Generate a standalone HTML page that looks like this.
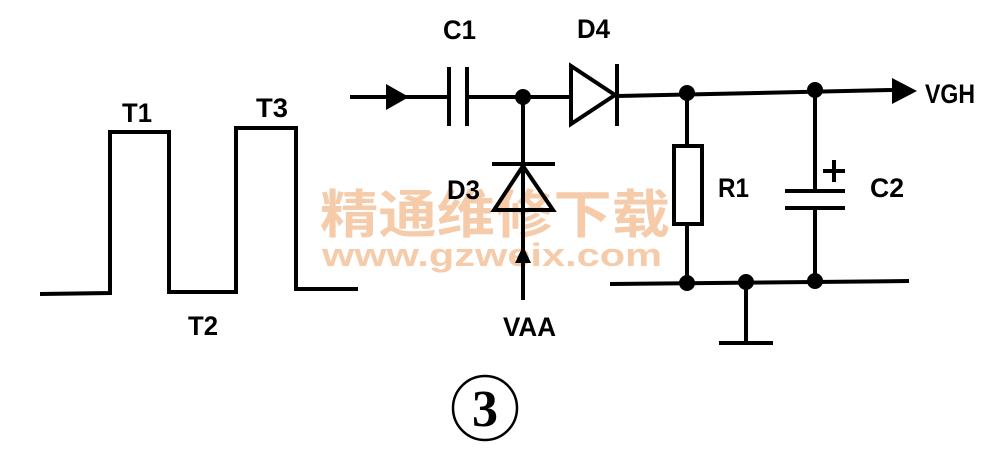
<!DOCTYPE html>
<html><head><meta charset="utf-8"><style>
html,body{margin:0;padding:0;background:#fff;}
svg{display:block}
.l{font-family:"Liberation Sans",sans-serif;font-weight:bold;font-size:27px;fill:#000}
</style></head><body>
<svg width="994" height="454" viewBox="0 0 994 454" xmlns="http://www.w3.org/2000/svg">
<text x="320" y="233" font-family="'Noto Sans CJK SC',sans-serif" font-weight="bold" font-size="52" fill="#f6cbaa" textLength="350" lengthAdjust="spacingAndGlyphs">精通维修下载</text>
<text x="322" y="266" font-family="'Liberation Sans',sans-serif" font-weight="bold" font-size="32" fill="#f6cbaa" textLength="340" lengthAdjust="spacingAndGlyphs">www.gzweix.com</text>
<g fill="none" stroke="#000" stroke-width="4">
<polyline points="40,294 110,293 110,132 169,132 169,292 236,292 236,128 296,128 296,289 358,289"/>
<line x1="350" y1="97" x2="449" y2="97"/>
<line x1="467" y1="97" x2="569" y2="97"/>
<line x1="617" y1="96" x2="892" y2="90"/>
<line x1="449" y1="67" x2="449" y2="126"/>
<line x1="467" y1="67" x2="467" y2="126"/>
<polygon points="571,66 571,124 615,95"/>
<line x1="617" y1="64" x2="617" y2="126"/>
<line x1="523" y1="97" x2="523" y2="300"/>
<line x1="492" y1="164" x2="555" y2="164"/>
<polygon points="494,210 553,210 523,166"/>
<line x1="687" y1="93" x2="687" y2="146"/>
<rect x="674" y="146" width="28" height="78"/>
<line x1="687" y1="224" x2="687" y2="283"/>
<line x1="815" y1="90" x2="815" y2="191"/>
<line x1="785" y1="191" x2="845" y2="191"/>
<line x1="785" y1="208" x2="845" y2="208"/>
<line x1="815" y1="208" x2="815" y2="281"/>
<line x1="834" y1="160" x2="834" y2="182"/>
<line x1="823" y1="171" x2="845" y2="171"/>
<line x1="610" y1="284" x2="909" y2="281"/>
<line x1="746" y1="283" x2="746" y2="343"/>
<line x1="719" y1="343" x2="773" y2="343"/>
<circle cx="485" cy="408" r="32" stroke-width="2.5"/>
</g>
<g fill="#000">
<polygon points="386,84 386,110 409,97"/>
<polygon points="892,78 892,104 917,91"/>
<polygon points="515,263 531,263 523,246"/>
<circle cx="523" cy="97" r="8"/>
<circle cx="687" cy="93" r="8"/>
<circle cx="815" cy="90" r="8"/>
<circle cx="687" cy="283" r="8"/>
<circle cx="746" cy="282" r="8"/>
<circle cx="815" cy="281" r="8"/>
</g>
<text class="l" x="122" y="122" textLength="30" lengthAdjust="spacingAndGlyphs">T1</text>
<text class="l" x="256" y="117" textLength="32" lengthAdjust="spacingAndGlyphs">T3</text>
<text class="l" x="188" y="335" textLength="30" lengthAdjust="spacingAndGlyphs">T2</text>
<text class="l" x="443" y="39" textLength="33" lengthAdjust="spacingAndGlyphs">C1</text>
<text class="l" x="577" y="38" textLength="33" lengthAdjust="spacingAndGlyphs">D4</text>
<text class="l" x="447" y="199" textLength="33" lengthAdjust="spacingAndGlyphs">D3</text>
<text class="l" x="718" y="197" textLength="31" lengthAdjust="spacingAndGlyphs">R1</text>
<text class="l" x="870" y="197" textLength="34" lengthAdjust="spacingAndGlyphs">C2</text>
<text class="l" x="925" y="103" textLength="50" lengthAdjust="spacingAndGlyphs">VGH</text>
<text class="l" x="503" y="336" textLength="53" lengthAdjust="spacingAndGlyphs">VAA</text>
<text x="485" y="426" text-anchor="middle" font-family="'Liberation Serif',serif" font-weight="bold" font-size="52" fill="#000">3</text>
</svg>
</body></html>
